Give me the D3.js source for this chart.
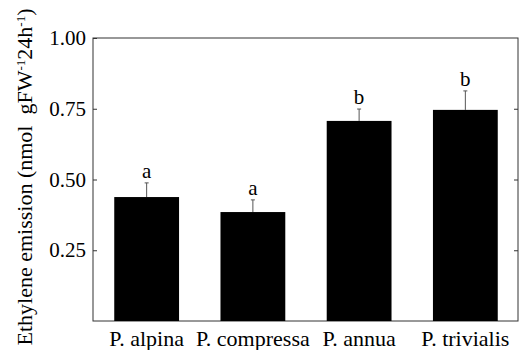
<!DOCTYPE html>
<html>
<head>
<meta charset="utf-8">
<script src="https://cdn.jsdelivr.net/npm/d3@7"></script>
<style>
  body { margin: 0; background: #fff; }
</style>
</head>
<body>
<div id="chart"></div>
<script>
// data
const species = ["P. alpina", "P. compressa", "P. annua", "P. trivialis"];
const emission = [0.438, 0.385, 0.707, 0.746];
const errorUp = [0.050, 0.043, 0.042, 0.067];
const letters = ["a", "a", "b", "b"];
const yTicks = [0.25, 0.50, 0.75, 1.00];

const width = 520, height = 350;
const margin = {top: 38, right: 1, bottom: 29, left: 93};
const axisColor = "#333";
const fontFamily = "'Liberation Serif', 'Times New Roman', serif";
const fontSize = 21;

const svg = d3.select("#chart").append("svg")
    .attr("width", width)
    .attr("height", height)
    .attr("font-family", fontFamily);

const x = d3.scaleBand()
    .domain(species)
    .range([margin.left, width - margin.right])
    .paddingInner(0.39)
    .paddingOuter(0.2);

const y = d3.scaleLinear()
    .domain([0, 1])
    .range([height - margin.bottom, margin.top]);

// frame
svg.append("rect")
    .attr("x", margin.left)
    .attr("y", margin.top)
    .attr("width", width - margin.right - margin.left - 1)
    .attr("height", y(0) - margin.top)
    .attr("fill", "none")
    .attr("stroke", axisColor)
    .attr("stroke-width", 1);

// left axis, inward ticks
const yAxis = svg.append("g")
    .attr("transform", `translate(${margin.left},0)`)
    .call(d3.axisLeft(y).tickValues(yTicks).tickSize(-4).tickPadding(7).tickFormat(d3.format(".2f")));
yAxis.attr("font-family", fontFamily).attr("font-size", fontSize);
yAxis.select(".domain").remove();
yAxis.selectAll("line").attr("stroke", axisColor);
yAxis.selectAll("text").attr("fill", "#000");

// right axis ticks
const yRight = svg.append("g")
    .attr("transform", `translate(${width - margin.right - 1},0)`)
    .call(d3.axisRight(y).tickValues(yTicks.slice(0, 3)).tickSize(-4).tickFormat(""));
yRight.select(".domain").remove();
yRight.selectAll("line").attr("stroke", axisColor);

// bottom labels
const xAxis = svg.append("g")
    .attr("transform", `translate(0,${y(0)})`)
    .call(d3.axisBottom(x).tickSize(0).tickPadding(9));
xAxis.attr("font-family", fontFamily).attr("font-size", 22);
xAxis.select(".domain").remove();
xAxis.selectAll("text").attr("fill", "#000");

// error bars
const errG = svg.append("g");
errG.selectAll(".err")
    .data(species)
    .join("line")
    .attr("x1", d => x(d) + x.bandwidth() / 2)
    .attr("x2", d => x(d) + x.bandwidth() / 2)
    .attr("y1", (d, i) => y(emission[i]))
    .attr("y2", (d, i) => y(emission[i] + errorUp[i]))
    .attr("stroke", "#555")
    .attr("stroke-width", 1);
errG.selectAll(".cap")
    .data(species)
    .join("line")
    .attr("x1", d => x(d) + x.bandwidth() / 2 - 2)
    .attr("x2", d => x(d) + x.bandwidth() / 2 + 2)
    .attr("y1", (d, i) => y(emission[i] + errorUp[i]))
    .attr("y2", (d, i) => y(emission[i] + errorUp[i]))
    .attr("stroke", "#555")
    .attr("stroke-width", 1);

// bars
svg.selectAll(".bar")
    .data(species)
    .join("rect")
    .attr("class", "bar")
    .attr("x", d => x(d))
    .attr("y", (d, i) => y(emission[i]))
    .attr("width", x.bandwidth())
    .attr("height", (d, i) => y(0) - y(emission[i]))
    .attr("fill", "#000");

// significance letters
svg.selectAll(".letter")
    .data(species)
    .join("text")
    .attr("x", d => x(d) + x.bandwidth() / 2)
    .attr("y", (d, i) => y(emission[i] + errorUp[i]) - 5)
    .attr("text-anchor", "middle")
    .attr("font-size", fontSize)
    .text((d, i) => letters[i]);

// y label
const yLabel = svg.append("text")
    .attr("transform", "translate(32,177) rotate(-90)")
    .attr("text-anchor", "middle")
    .attr("font-size", 22);
yLabel.append("tspan").text("Ethylene emission (nmol\u00a0\u00a0gFW");
yLabel.append("tspan").attr("baseline-shift", "super").attr("font-size", 13).text("-1");
yLabel.append("tspan").text("24h");
yLabel.append("tspan").attr("baseline-shift", "super").attr("font-size", 13).text("-1");
yLabel.append("tspan").text(")");
</script>
</body>
</html>
